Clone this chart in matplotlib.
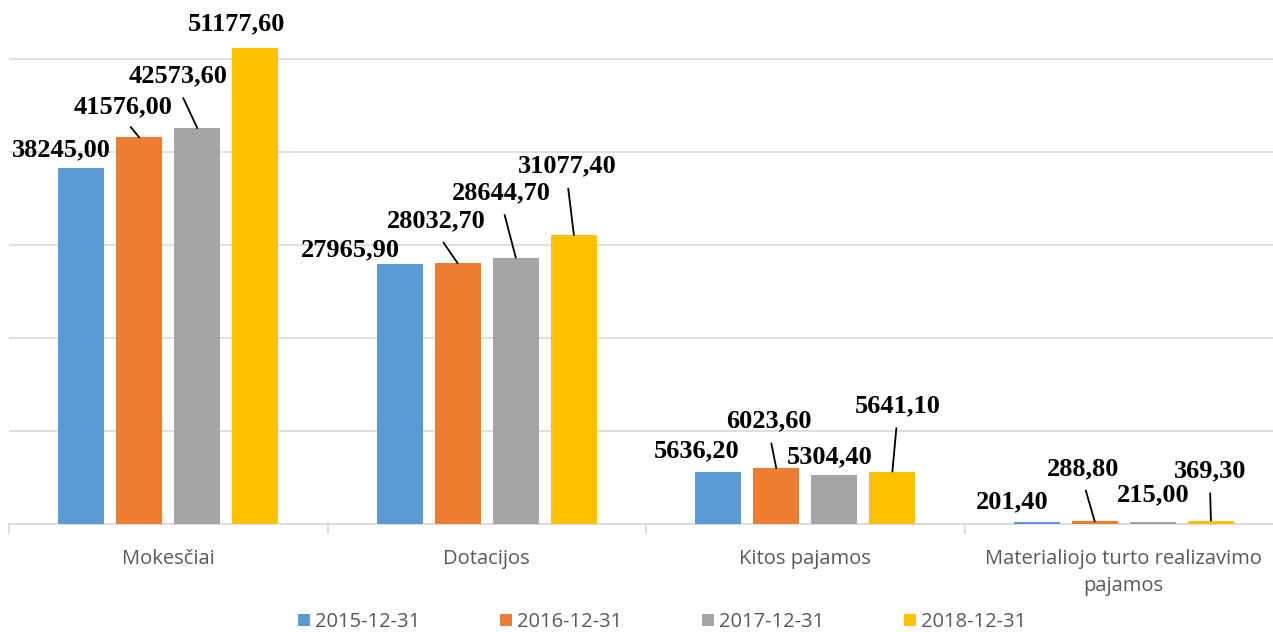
import numpy as np
import matplotlib.pyplot as plt

# data
categories = ["Mokesčiai", "Dotacijos", "Kitos pajamos",
              "Materialiojo turto realizavimo\npajamos"]
series_names = ["2015-12-31", "2016-12-31", "2017-12-31", "2018-12-31"]
v2015 = [38245.00, 27965.90, 5636.20, 201.40]
v2016 = [41576.00, 28032.70, 6023.60, 288.80]
v2017 = [42573.60, 28644.70, 5304.40, 215.00]
v2018 = [51177.60, 31077.40, 5641.10, 369.30]
colors = ["#5B9BD5", "#ED7D31", "#A5A5A5", "#FFC000"]

# label placement (pixel offsets from bar top, leader line yes/no)
label_offsets = [
    [(-20, 19, False), (-49, 14, False), (-21, 21, False), (-24, 20, False)],
    [(-16, 31, True), (-21, 42, True), (-7, 47, True), (-12, 53, True)],
    [(-19, 52, True), (-14, 65, True), (-5, 18, False), (0, 27, False)],
    [(-19, 24, False), (-7, 69, True), (5, 66, True), (-1, 50, True)],
]

W, H = 1273, 632
fig = plt.figure(figsize=(W / 100, H / 100), dpi=100)
ax = fig.add_axes([9 / W, (H - 524) / H, (1283 - 9) / W, 524 / H])

x = np.arange(len(categories))
bar_w = 0.145
step = 0.1824
all_vals = [v2015, v2016, v2017, v2018]

for j, vals in enumerate(all_vals):
    xs = x + (j - 1.5) * step
    ax.bar(xs, vals, width=bar_w, color=colors[j], label=series_names[j], zorder=3)
    for i, v in enumerate(vals):
        dx, dy, leader = label_offsets[j][i]
        txt = f"{v:.2f}".replace(".", ",")
        kw = {}
        if leader:
            kw["arrowprops"] = dict(arrowstyle="-", color="black", lw=1.3,
                                    shrinkA=6, shrinkB=0, relpos=(0.5, 0))
        ax.annotate(txt, xy=(xs[i], v), xytext=(dx, dy),
                    textcoords="offset pixels", ha="center", va="center",
                    family="Liberation Serif", fontweight="bold", fontsize=19,
                    color="black", zorder=5, **kw)

ax.set_xlim(-0.5, 3.5)
ax.set_ylim(0, 524 / 93 * 10000)
ax.set_yticks(np.arange(0, 60000, 10000))
ax.yaxis.grid(True, color="#D9D9D9", lw=1.2, zorder=0)
ax.tick_params(axis="y", length=0, labelleft=False)

ax.set_xticks(x)
ax.set_xticklabels(categories, family="Open Sans", fontsize=14.5, color="#595959")
for lab in ax.get_xticklabels():
    lab.set_linespacing(1.5)
ax.set_xticks(np.arange(-0.5, 4, 1), minor=True)
ax.tick_params(axis="x", which="major", length=0, pad=18)
ax.tick_params(axis="x", which="minor", length=7, color="#D9D9D9", width=1.2)

for s in ["top", "right", "left"]:
    ax.spines[s].set_visible(False)
ax.spines["bottom"].set_color("#D9D9D9")
ax.spines["bottom"].set_linewidth(1.2)

fig.legend(loc="center", bbox_to_anchor=(662 / W, 1 - 622 / H), ncol=4,
           frameon=False, prop={"family": "Open Sans", "size": 14.5},
           labelcolor="#595959", handlelength=0.6, handleheight=0.6,
           handletextpad=0.25, columnspacing=3.95, borderpad=0)

fig.savefig("out.png", dpi=100)
